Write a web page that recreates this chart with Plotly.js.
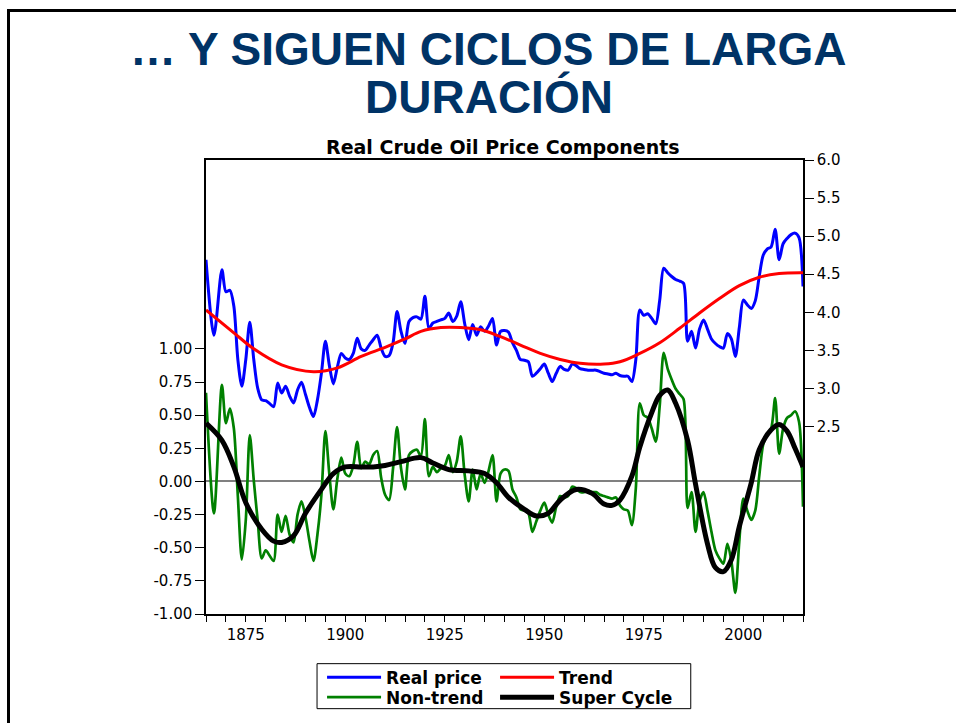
<!DOCTYPE html>
<html>
<head>
<meta charset="utf-8">
<script src="https://cdn.plot.ly/plotly-3.0.1.min.js"></script>
<style>
  body { margin: 0; background: #fff; }
  #chart { width: 956px; height: 723px; }
  #frame { position: absolute; left: 7px; top: 9px; right: 0; bottom: 0;
           border-left: 3px solid #000; border-top: 3px solid #000; pointer-events: none; }
</style>
</head>
<body>
<div id="chart"></div>
<div id="frame"></div>
<script>
// Years for the annual series (real price and non-trend share them)
var priceYears = [1865, 1867, 1869, 1870, 1871, 1872, 1873, 1874, 1875, 1876, 1877, 1878, 1879,
  1880, 1881, 1882, 1883, 1884, 1885, 1886, 1887, 1888, 1889,
  1890, 1891, 1892, 1893, 1894, 1895, 1896, 1897, 1898, 1899,
  1900, 1901, 1902, 1903, 1904, 1905, 1906, 1907, 1908, 1909,
  1910, 1911, 1912, 1913, 1914, 1915, 1916, 1917, 1918, 1919,
  1920, 1921, 1922, 1923, 1924, 1925, 1926, 1927, 1928, 1929,
  1930, 1931, 1932, 1933, 1934, 1935, 1936, 1937, 1938, 1939,
  1940, 1941, 1942, 1943, 1944, 1945, 1946, 1947, 1948, 1949,
  1950, 1951, 1952, 1953, 1954, 1955, 1956, 1957, 1958, 1959,
  1960, 1961, 1962, 1963, 1964, 1965, 1966, 1967, 1968, 1969,
  1970, 1971, 1972, 1973, 1974, 1975, 1976, 1977, 1978, 1979,
  1980, 1981, 1982, 1983, 1984, 1985, 1986, 1987, 1988, 1989,
  1990, 1991, 1992, 1993, 1994, 1995, 1996, 1997, 1998, 1999,
  2000, 2001, 2002, 2003, 2004, 2005, 2006, 2007, 2008, 2009,
  2010, 2011, 2012, 2013, 2014, 2015];

// Real price (log, right axis)
var realPrice = [4.69, 3.70, 4.56, 4.27, 4.29, 4.08, 3.38, 3.03, 3.38, 3.87, 3.38, 3.00, 2.85,
  2.84, 2.80, 2.76, 3.07, 2.94, 3.03, 2.90, 2.81, 2.98, 3.08,
  2.92, 2.75, 2.63, 2.85, 3.20, 3.62, 3.30, 3.06, 3.28, 3.46,
  3.40, 3.38, 3.46, 3.66, 3.52, 3.50, 3.57, 3.64, 3.70, 3.53,
  3.42, 3.43, 3.60, 4.01, 3.75, 3.59, 3.88, 3.93, 3.94, 3.91,
  4.21, 3.79, 3.86, 3.88, 3.90, 3.92, 3.99, 3.88, 3.95, 4.14,
  3.85, 3.64, 3.84, 3.70, 3.81, 3.75, 3.82, 3.92, 3.57, 3.75,
  3.76, 3.74, 3.60, 3.50, 3.38, 3.37, 3.35, 3.16, 3.20, 3.26,
  3.32, 3.20, 3.09, 3.20, 3.29, 3.25, 3.24, 3.32, 3.30, 3.26,
  3.25, 3.24, 3.24, 3.24, 3.22, 3.20, 3.19, 3.18, 3.20, 3.17,
  3.16, 3.16, 3.09, 3.38, 4.03, 3.96, 3.98, 3.92, 3.85, 4.16,
  4.58, 4.52, 4.47, 4.43, 4.41, 4.38, 3.62, 3.75, 3.53, 3.78,
  3.90, 3.78, 3.65, 3.59, 3.55, 3.53, 3.72, 3.65, 3.42, 3.80,
  4.16, 4.10, 4.05, 4.15, 4.47, 4.75, 4.83, 4.86, 5.09, 4.69,
  4.90, 4.97, 5.02, 5.04, 4.98, 4.34];

// Non-trend component (left axis)
var nonTrend = [0.67, -0.24, 0.73, 0.44, 0.55, 0.40, -0.11, -0.59, -0.29, 0.35, 0.01, -0.30, -0.58,
  -0.52, -0.56, -0.60, -0.25, -0.38, -0.26, -0.40, -0.46, -0.25, -0.15,
  -0.27, -0.45, -0.60, -0.40, -0.10, 0.38, 0.05, -0.21, 0.02, 0.18,
  0.06, 0.04, 0.12, 0.30, 0.10, 0.15, 0.13, 0.20, 0.23, 0.03,
  -0.10, -0.14, 0.10, 0.41, 0.10, -0.06, 0.20, 0.23, 0.24, 0.19,
  0.47, 0.04, 0.11, 0.07, 0.10, 0.12, 0.20, 0.07, 0.15, 0.34,
  0.05, -0.15, 0.09, -0.06, 0.06, -0.01, 0.08, 0.20, -0.15, 0.06,
  0.09, 0.08, -0.06, -0.12, -0.21, -0.22, -0.24, -0.38, -0.30, -0.22,
  -0.16, -0.25, -0.31, -0.19, -0.11, -0.12, -0.11, -0.04, -0.05, -0.08,
  -0.08, -0.07, -0.08, -0.08, -0.10, -0.11, -0.12, -0.13, -0.12, -0.18,
  -0.21, -0.22, -0.33, -0.05, 0.59, 0.50, 0.48, 0.40, 0.30, 0.57,
  0.97, 0.85, 0.77, 0.70, 0.66, 0.62, -0.20, -0.08, -0.38, -0.15,
  -0.08, -0.22, -0.38, -0.52, -0.58, -0.62, -0.47, -0.60, -0.84, -0.45,
  -0.13, -0.22, -0.29, -0.22, 0.04, 0.28, 0.36, 0.40, 0.63, 0.21,
  0.40, 0.48, 0.50, 0.53, 0.45, -0.19];

// Trend (right axis)
var trendYears = [1865, 1872, 1877, 1884, 1892, 1898, 1904, 1910, 1915, 1919, 1924, 1929, 1934, 1939,
  1944, 1949, 1954, 1959, 1965, 1969, 1974, 1979, 1984, 1989, 1994, 1999, 2004, 2009, 2015];
var trend = [4.03, 3.73, 3.52, 3.31, 3.22, 3.27, 3.42, 3.54, 3.65, 3.75, 3.80, 3.80, 3.77, 3.68,
  3.57, 3.46, 3.38, 3.33, 3.32, 3.35, 3.46, 3.60, 3.79, 3.99, 4.18, 4.35, 4.46, 4.51, 4.52];

// Super cycle (left axis)
var cycleYears = [1865, 1869, 1872, 1875, 1879, 1882, 1884, 1887, 1890, 1894, 1897, 1900, 1904, 1907,
  1910, 1914, 1919, 1922, 1926, 1931, 1935, 1938, 1941, 1945, 1948, 1951, 1954, 1958, 1962, 1965,
  1967, 1969, 1972, 1974, 1977, 1979, 1981, 1983, 1986, 1988, 1991, 1993, 1995, 1997, 1999, 2002,
  2004, 2007, 2009, 2011, 2013, 2015];
var superCycle = [0.44, 0.31, 0.11, -0.16, -0.36, -0.45, -0.46, -0.41, -0.24, -0.06, 0.06, 0.11, 0.11, 0.11,
  0.12, 0.15, 0.18, 0.14, 0.09, 0.08, 0.06, -0.01, -0.12, -0.21, -0.26, -0.24, -0.14, -0.06, -0.09, -0.17,
  -0.18, -0.14, 0.04, 0.26, 0.52, 0.65, 0.69, 0.59, 0.31, -0.02, -0.47, -0.65, -0.68, -0.59, -0.34, -0.01,
  0.24, 0.39, 0.43, 0.38, 0.25, 0.11];

// Axis ticks
var xTickYears = [1875, 1900, 1925, 1950, 1975, 2000];
var xTickText = ['1875', '1900', '1925', '1950', '1975', '2000'];
var leftTicks = [-1, -0.75, -0.5, -0.25, 0, 0.25, 0.5, 0.75, 1];
var leftTickText = ['-1.00', '-0.75', '-0.50', '-0.25', '0.00', '0.25', '0.50', '0.75', '1.00'];
var rightTicks = [2.5, 3, 3.5, 4, 4.5, 5, 5.5, 6];
var rightTickText = ['2.5', '3.0', '3.5', '4.0', '4.5', '5.0', '5.5', '6.0'];

var chartFont = 'DejaVu Sans, Arial, sans-serif';
var titleFont = 'Liberation Sans, Arial, sans-serif';

var traces = [
  {x: priceYears, y: realPrice, name: 'Real price', yaxis: 'y2', type: 'scatter', mode: 'lines',
   line: {color: '#0000ff', width: 3, shape: 'spline', smoothing: 0.8}, legend: 'legend'},
  {x: trendYears, y: trend, name: 'Trend', yaxis: 'y2', type: 'scatter', mode: 'lines',
   line: {color: '#ff0000', width: 3, shape: 'spline'}, legend: 'legend'},
  {x: priceYears, y: nonTrend, name: 'Non-trend', type: 'scatter', mode: 'lines',
   line: {color: '#008000', width: 2.7, shape: 'spline', smoothing: 0.8}, legend: 'legend2'},
  {x: cycleYears, y: superCycle, name: 'Super Cycle', type: 'scatter', mode: 'lines',
   line: {color: '#000000', width: 5, shape: 'spline'}, legend: 'legend2', legendwidth: 130}
];

var legendStyle = {
  orientation: 'h', xanchor: 'left', yanchor: 'middle', x: 0.1944,
  entrywidth: 104, itemwidth: 54, bgcolor: 'rgba(0,0,0,0)', borderwidth: 0,
  font: {family: chartFont, size: 17, weight: 'bold', color: '#000'}
};

var layout = {
  width: 956, height: 723,
  margin: {l: 206, r: 153, t: 160, b: 109, autoexpand: false},
  paper_bgcolor: '#fff', plot_bgcolor: '#fff',
  showlegend: true,
  legend: Object.assign({}, legendStyle, {y: -0.1402}),
  legend2: Object.assign({}, legendStyle, {y: -0.1842}),
  xaxis: {
    range: [1865, 2015], tickmode: 'array', tickvals: xTickYears, ticktext: xTickText,
    ticks: 'outside', ticklen: 6, tickcolor: '#000',
    minor: {tickmode: 'linear', tick0: 1865, dtick: 5, ticks: 'outside', ticklen: 6, tickcolor: '#000'},
    showline: true, linecolor: '#000', linewidth: 1.5, mirror: true,
    showgrid: false, zeroline: false,
    tickfont: {family: chartFont, size: 15, color: '#000'}
  },
  yaxis: {
    range: [-1, 2.426], tickmode: 'array', tickvals: leftTicks, ticktext: leftTickText,
    ticks: 'outside', ticklen: 9, tickcolor: '#000',
    showline: true, linecolor: '#000', linewidth: 1.5,
    showgrid: false, zeroline: true, zerolinecolor: '#808080', zerolinewidth: 1.5,
    tickfont: {family: chartFont, size: 15, color: '#000'}
  },
  yaxis2: {
    overlaying: 'y', side: 'right',
    range: [0.038, 6.0], tickmode: 'array', tickvals: rightTicks, ticktext: rightTickText,
    ticks: 'outside', ticklen: 9, tickcolor: '#000',
    showline: true, linecolor: '#000', linewidth: 1.5,
    showgrid: false, zeroline: false,
    tickfont: {family: chartFont, size: 15, color: '#000'}
  },
  shapes: [
    {type: 'rect', xref: 'paper', yref: 'paper', x0: 0.186, x1: 0.812, y0: -0.2085, y1: -0.1094,
     line: {color: '#000', width: 1}}
  ],
  annotations: [
    {text: '… Y SIGUEN CICLOS DE LARGA', xref: 'paper', yref: 'paper', x: 0.474, y: 1.2443,
     xanchor: 'center', yanchor: 'middle', showarrow: false,
     font: {family: titleFont, size: 46, weight: 'bold', color: '#003366'}},
    {text: 'DURACIÓN', xref: 'paper', yref: 'paper', x: 0.474, y: 1.1391,
     xanchor: 'center', yanchor: 'middle', showarrow: false,
     font: {family: titleFont, size: 46, weight: 'bold', color: '#003366'}},
    {text: 'Real Crude Oil Price Components', xref: 'paper', yref: 'paper', x: 0.498, y: 1.0286,
     xanchor: 'center', yanchor: 'middle', showarrow: false,
     font: {family: chartFont, size: 19, weight: 'bold', color: '#000'}}
  ]
};

Plotly.newPlot('chart', traces, layout, {displayModeBar: false});
</script>
</body>
</html>
